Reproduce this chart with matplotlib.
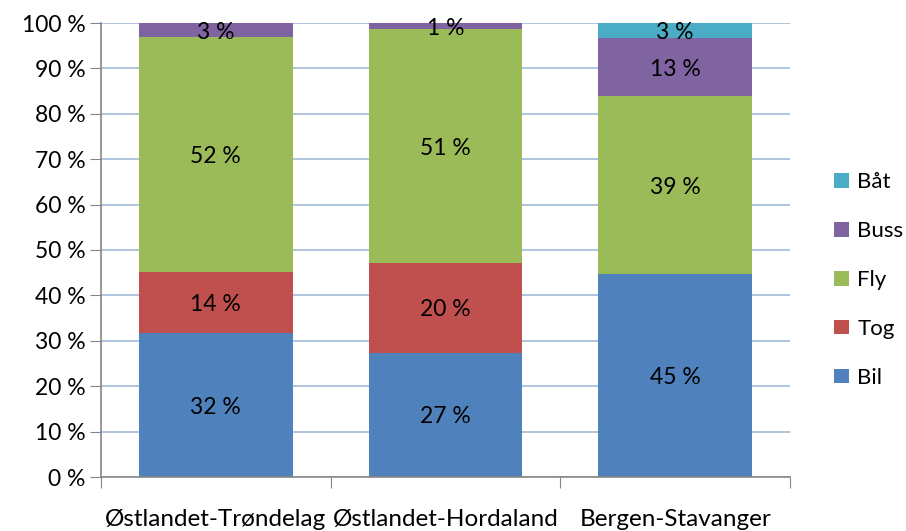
import matplotlib.pyplot as plt
import numpy as np

plt.rcParams['font.family'] = ['Lato', 'DejaVu Sans']

categories = ['Østlandet-Trøndelag', 'Østlandet-Hordaland', 'Bergen-Stavanger']
series = ['Bil', 'Tog', 'Fly', 'Buss', 'Båt']
bil = [31.7, 27.4, 44.7]
tog = [13.5, 19.8, 0.0]
fly = [51.7, 51.4, 39.2]
buss = [3.1, 1.4, 12.8]
baat = [0.0, 0.0, 3.3]
labels = {
    'Bil': ['32 %', '27 %', '45 %'],
    'Tog': ['14 %', '20 %', ''],
    'Fly': ['52 %', '51 %', '39 %'],
    'Buss': ['3 %', '1 %', '13 %'],
    'Båt': ['', '', '3 %'],
}
colors = ['#4F81BD', '#C0504D', '#9BBB59', '#8064A2', '#4BACC6']

dpi = 100
fig = plt.figure(dpi=dpi, figsize=(906 / dpi, 531 / dpi))
ax = fig.add_axes([101 / 906, 1 - 477 / 531, 689 / 906, 454 / 531])

x = np.arange(len(categories))
bottom = np.zeros(len(categories))
handles = []
for name, vals, col in zip(series, [bil, tog, fly, buss, baat], colors):
    vals = np.array(vals)
    h = ax.bar(x, vals, 0.67, bottom=bottom, color=col, label=name, zorder=2)
    handles.append(h)
    for xi, b, v, lab in zip(x, bottom, vals, labels[name]):
        if lab:
            ax.text(xi, b + v / 2, lab, ha='center', va='center_baseline', fontsize=16.5, zorder=3)
    bottom += vals

ax.set_xlim(-0.5, 2.5)
ax.set_ylim(0, 100)
ax.set_yticks(range(0, 101, 10))
ax.set_yticklabels([f'{v} %' for v in range(0, 101, 10)], fontsize=16.5)
ax.yaxis.grid(True, color='#A9BFDB', linewidth=1.3, zorder=0)
ax.set_axisbelow(True)

ax.set_xticks([-0.5, 0.5, 1.5, 2.5])
ax.set_xticklabels([])
ax.set_xticks(x, minor=True)
ax.set_xticklabels(categories, minor=True, fontsize=17.5)
ax.tick_params(axis='x', which='minor', length=0, pad=23)
ax.tick_params(axis='x', which='major', length=8, color='#868686')
ax.tick_params(axis='y', length=8, color='#868686', pad=3)

for s in ['top', 'right']:
    ax.spines[s].set_visible(False)
for s in ['left', 'bottom']:
    ax.spines[s].set_color('#868686')
    ax.spines[s].set_linewidth(1.2)

fig.legend(handles[::-1], series[::-1], loc='center left', bbox_to_anchor=(823 / 906, 1 - 280 / 531),
           frameon=False, fontsize=16, handlelength=0.65, handleheight=0.65,
           handletextpad=0.4, labelspacing=1.3, borderpad=0)

fig.savefig('out.png')
